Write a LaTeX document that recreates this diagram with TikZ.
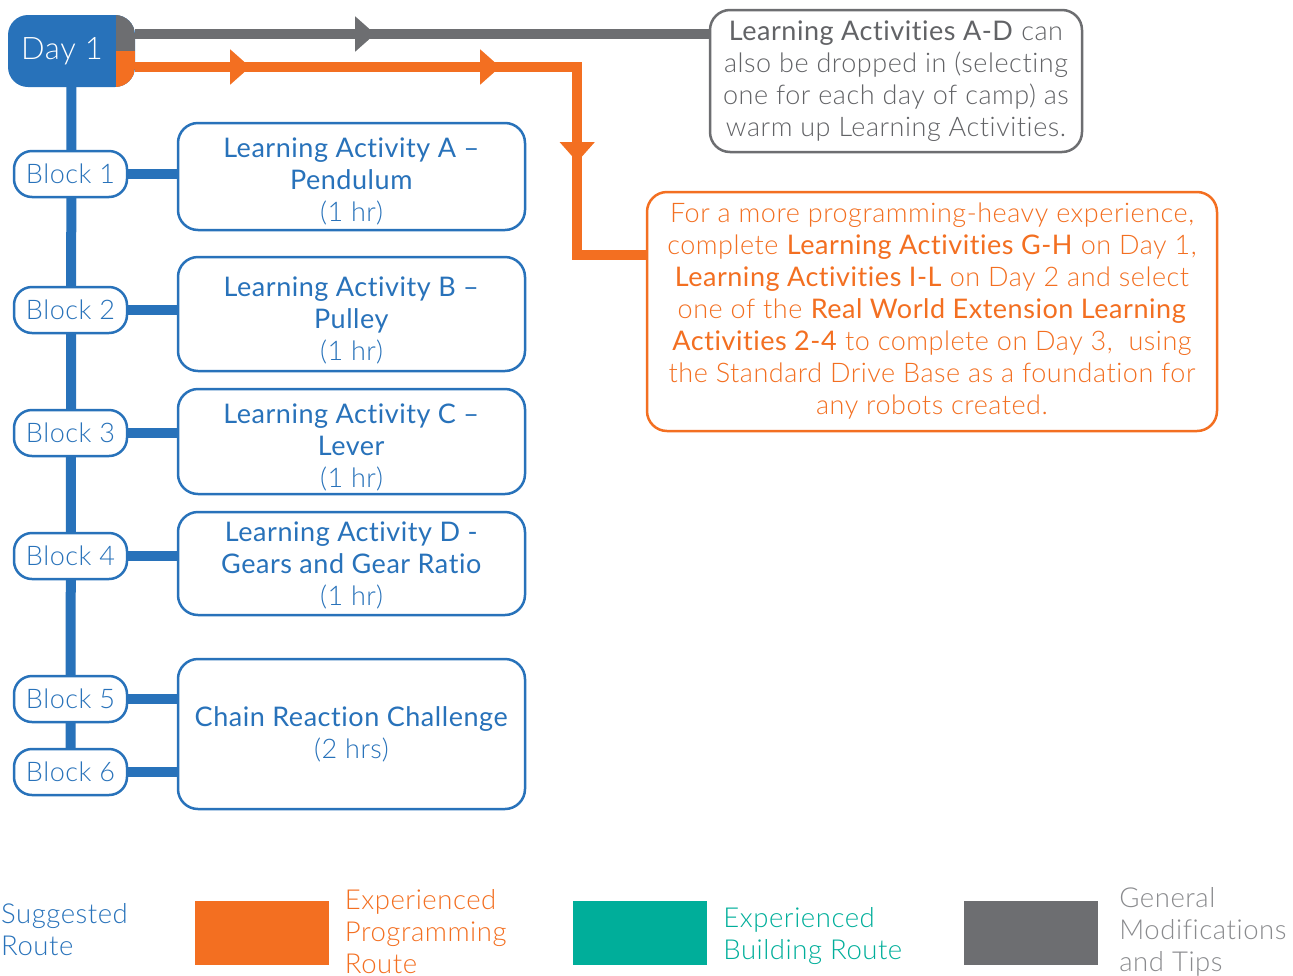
\documentclass[tikz,border=0pt]{standalone}
\usepackage{fontspec}
\setmainfont{Lato}[UprightFont=* Light, BoldFont=*, LetterSpace=2, Ligatures=NoCommon]
\usetikzlibrary{positioning, arrows.meta, decorations.markings, backgrounds}

\definecolor{routeblue}{HTML}{2872BA}
\definecolor{routeorange}{HTML}{F36F21}
\definecolor{routegray}{HTML}{6D6E71}
\definecolor{routeteal}{HTML}{00AE9A}

\newcommand{\lift}[1]{\rule{0pt}{#1}}

\begin{document}
\begin{tikzpicture}[
    x=1pt, y=-1pt,
    txt/.style={font=\fontsize{27}{32}\selectfont},
    day/.style={rectangle, rounded corners=20pt, fill=routeblue, text=white,
                minimum width=127pt, minimum height=72pt, inner sep=0pt,
                font=\fontsize{31}{36}\selectfont,
                path picture={
                  \fill[sharp corners, routegray] ([xshift=-19pt]path picture bounding box.north east) rectangle (path picture bounding box.east);
                  \fill[sharp corners, routeorange] ([xshift=-19pt]path picture bounding box.east) rectangle (path picture bounding box.south east);
                }},
    block/.style={rectangle, rounded corners=18pt, draw=routeblue, line width=2.5pt,
                  fill=white, text=routeblue, minimum width=113pt, minimum height=46pt,
                  inner sep=0pt, txt},
    activity/.style={rectangle, rounded corners=20pt, draw=routeblue, line width=2.5pt,
                     fill=white, text=routeblue, minimum width=347pt,
                     align=center, inner sep=0pt, txt},
    note/.style={rectangle, rounded corners=20pt, line width=2.5pt, fill=white,
                 align=center, inner sep=0pt, txt},
    swatch/.style={rectangle, minimum width=134pt, minimum height=64pt, inner sep=0pt},
    legend/.style={align=left, inner sep=0pt, font=\fontsize{27.5}{32}\selectfont},
    spine/.style={line width=10pt, routeblue},
    grayroute/.style={line width=10pt, routegray, postaction={decorate},
                      decoration={markings,
                        mark=at position 240pt with {\arrow{Triangle[length=20pt, width=34pt]}}}},
    orangeroute/.style={line width=10pt, routeorange, postaction={decorate},
                        decoration={markings,
                          mark=at position 115pt with {\arrow{Triangle[length=20pt, width=34pt]}},
                          mark=at position 365pt with {\arrow{Triangle[length=20pt, width=34pt]}},
                          mark=at position 537pt with {\arrow{Triangle[length=20pt, width=34pt]}}}}
  ]
    \useasboundingbox (0,0) rectangle (1293,975);

    % Day 1 head
    \node[day] (day1) at (71.5,51) {Day 1\rule{19pt}{0pt}};

    % Blocks
    \node[block] (block1) at (70.5,174) {Block 1};
    \node[block] (block2) at (70.5,310) {Block 2};
    \node[block] (block3) at (70.5,433) {Block 3};
    \node[block] (block4) at (70.5,556) {Block 4};
    \node[block] (block5) at (70.5,699) {Block 5};
    \node[block] (block6) at (70.5,772) {Block 6};

    % Learning activities
    \node[activity, minimum height=107pt] (act-a) at (351.5,176.5)
      {\lift{30pt}\textbf{Learning Activity A –}\\\textbf{Pendulum}\\(1 hr)};
    \node[activity, minimum height=114pt] (act-b) at (351.5,314)
      {\lift{32pt}\textbf{Learning Activity B –}\\\textbf{Pulley}\\(1 hr)};
    \node[activity, minimum height=105pt] (act-c) at (351.5,441.5)
      {\lift{31pt}\textbf{Learning Activity C –}\\\textbf{Lever}\\(1 hr)};
    \node[activity, minimum height=103pt] (act-d) at (351.5,563.5)
      {\lift{24pt}\textbf{Learning Activity D -}\\\textbf{Gears and Gear Ratio}\\(1 hr)};
    \node[activity, minimum height=150pt] (chain) at (351.5,734)
      {\textbf{Chain Reaction Challenge}\\(2 hrs)};

    % Notes
    \node[note, draw=routegray, text=routegray!90!black, minimum width=372pt, minimum height=142pt] (tips) at (896,81)
      {\textbf{Learning Activities A-D} can\\also be dropped in (selecting\\one for each day of camp) as\\warm up Learning Activities.};
    \node[note, draw=routeorange, text=routeorange, minimum width=570pt, minimum height=239pt] (prog) at (932,311.5)
      {For a more programming-heavy experience,\\
       complete \textbf{Learning Activities G-H} on Day 1,\\
       \textbf{Learning Activities I-L} on Day 2 and select\\
       one of the \textbf{Real World Extension Learning}\\
       \textbf{Activities 2-4} to complete on Day 3,\ \ using\\
       the Standard Drive Base as a foundation for\\
       any robots created.};

    % Connectors
    \begin{scope}[on background layer]
      \draw[spine] (day1) -- (block6);
      \foreach \b/\a in {block1/act-a, block2/act-b, block3/act-c, block4/act-d, block5/chain, block6/chain}
        \draw[spine] (\b.east) -- (\b.east -| \a.west);
    \end{scope}
    \draw[grayroute] ([yshift=17pt]day1.east) -- ([yshift=17pt]day1.east -| tips.west);
    \draw[orangeroute] ([yshift=-16pt]day1.east) -- ++(442,0) |- ([yshift=56.5pt]prog.west);

    % Legend
    \node[legend, anchor=west, text=routeblue] (key-sugg) at (1,930) {Suggested\\Route};
    \node[swatch, fill=routeorange] (key-prog) at (261.5,933) {};
    \node[legend, text=routeorange, right=16pt of key-prog, yshift=1pt] (key-prog-txt) {Experienced\\Programming\\Route};
    \node[swatch, fill=routeteal] (key-build) at (640,933) {};
    \node[legend, text=routeteal, right=16pt of key-build, yshift=-3pt] (key-build-txt) {Experienced\\Building Route};
    \node[swatch, fill=routegray] (key-gen) at (1031,933) {};
    \node[legend, text=routegray!80, right=21pt of key-gen, yshift=1pt] (key-gen-txt) {General\\Modifications\\and Tips};

\end{tikzpicture}
\end{document}
